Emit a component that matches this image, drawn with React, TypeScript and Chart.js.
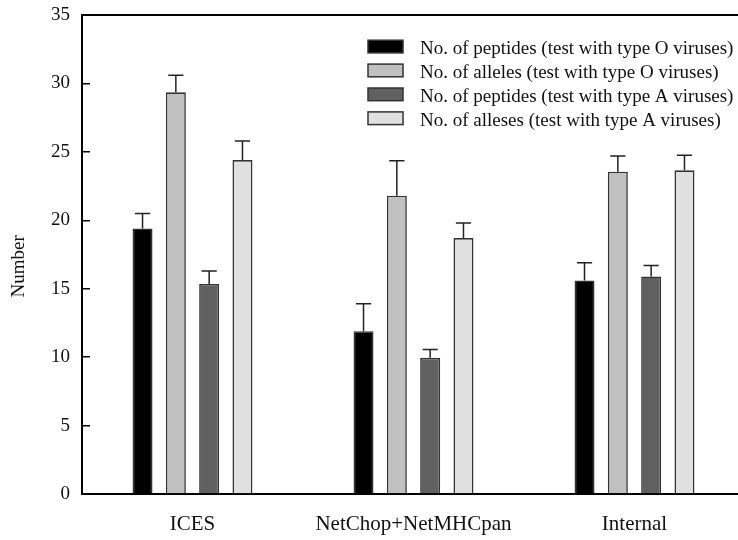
import React, { useEffect, useRef } from 'react';
import { Chart, registerables } from 'chart.js';

Chart.register(...registerables);

const categories = ['ICES', 'NetChop+NetMHCpan', 'Internal'];
const seriesLabels = [
  'No. of peptides (test with type O viruses)',
  'No. of alleles (test with type O viruses)',
  'No. of peptides (test with type A viruses)',
  'No. of alleses (test with type A viruses)',
];
const peptidesO = [19.4, 11.9, 15.6];
const allelesO = [29.35, 21.8, 23.55];
const peptidesA = [15.35, 9.95, 15.9];
const allelesA = [24.4, 18.7, 23.65];
const errPeptidesO = [1.1, 2.0, 1.3];
const errAllelesO = [1.25, 2.55, 1.15];
const errPeptidesA = [0.95, 0.6, 0.8];
const errAllelesA = [1.4, 1.1, 1.1];
const yTicks = [0, 5, 10, 15, 20, 25, 30, 35];

const fillColors = ['#000000', '#c0c0c0', '#606060', '#e0e0e0'];
const FONT = "'Liberation Serif', 'Times New Roman', serif";

const errorBarPlugin = {
  id: 'errorBars',
  afterDatasetsDraw(chart: any) {
    const ctx = chart.ctx;
    const y = chart.scales.y;
    chart.data.datasets.forEach((ds: any, i: number) => {
      const meta = chart.getDatasetMeta(i);
      meta.data.forEach((bar: any, j: number) => {
        const v = ds.data[j];
        const top = y.getPixelForValue(v + ds.errors[j]);
        const x = bar.x;
        const half = bar.width * 0.38;
        ctx.save();
        ctx.strokeStyle = '#222';
        ctx.lineWidth = 1.5;
        ctx.beginPath();
        ctx.moveTo(x, bar.y);
        ctx.lineTo(x, top);
        ctx.moveTo(x - half, top);
        ctx.lineTo(x + half, top);
        ctx.stroke();
        ctx.restore();
      });
    });
  },
};

const legendPlugin = {
  id: 'boxLegend',
  afterDraw(chart: any) {
    const { ctx, chartArea } = chart;
    const x0 = chartArea.left + 286;
    const y0 = chartArea.top + 31.5;
    const gap = 23.9;
    ctx.save();
    chart.data.datasets.forEach((ds: any, i: number) => {
      const yc = y0 + i * gap;
      ctx.fillStyle = ds.backgroundColor;
      ctx.fillRect(x0, yc - 6.3, 35, 12.7);
      ctx.strokeStyle = '#333';
      ctx.lineWidth = 1.5;
      ctx.strokeRect(x0, yc - 6.3, 35, 12.7);
      ctx.fillStyle = '#111';
      ctx.font = `19px ${FONT}`;
      ctx.textBaseline = 'alphabetic';
      ctx.textAlign = 'left';
      ctx.fillText(ds.label, x0 + 52, yc + 7.5);
    });
    ctx.restore();
  },
};

export default function App() {
  const ref = useRef<HTMLCanvasElement>(null);
  useEffect(() => {
    if (!ref.current) return;
    const values = [peptidesO, allelesO, peptidesA, allelesA];
    const errs = [errPeptidesO, errAllelesO, errPeptidesA, errAllelesA];
    const chart = new Chart(ref.current, {
      type: 'bar',
      data: {
        labels: categories,
        datasets: values.map((d, i) => ({
          label: seriesLabels[i],
          data: d,
          errors: errs[i],
          backgroundColor: fillColors[i],
          borderColor: '#333333',
          borderWidth: 1.6,
          categoryPercentage: 0.603,
          barPercentage: 0.6,
        })) as any,
      },
      options: {
        animation: false,
        responsive: true,
        maintainAspectRatio: false,
        devicePixelRatio: 1,
        layout: { padding: { top: 15, right: 15, left: 0, bottom: 0 } },
        plugins: { legend: { display: false }, tooltip: { enabled: false } },
        scales: {
          x: {
            type: 'category',
            offset: true,
            grid: { display: false, drawTicks: false },
            border: { display: true, color: '#000', width: 2 },
            ticks: { font: { family: FONT, size: 21 }, color: '#111', padding: 18, maxRotation: 0, autoSkip: false },
            afterFit(s: any) { s.height = 46; s.paddingLeft = 0; s.paddingRight = 0; },
          },
          x2: {
            type: 'category',
            position: 'top',
            labels: categories,
            grid: { display: false, drawTicks: false },
            ticks: { display: false },
            border: { display: true, color: '#000', width: 2 },
            afterFit(s: any) { s.height = 0; s.paddingLeft = 0; s.paddingRight = 0; },
          },
          y: {
            min: 0,
            max: 35,
            afterBuildTicks(s: any) { s.ticks = yTicks.map((v) => ({ value: v })); },
            ticks: { font: { family: FONT, size: 19 }, color: '#111', padding: 20 },
            grid: { drawOnChartArea: false, drawTicks: true, tickLength: -8, color: '#000', lineWidth: 1.5 },
            border: { display: true, color: '#000', width: 2 },
            title: { display: true, text: 'Number     ', font: { family: FONT, size: 19 }, color: '#111', padding: { top: 8, bottom: 0 } },
            afterFit(s: any) { s.width = 82; s.paddingTop = 0; s.paddingBottom = 0; },
          },
        },
      } as any,
      plugins: [errorBarPlugin, legendPlugin],
    });
    return () => chart.destroy();
  }, []);
  return (
    <div style={{ position: 'fixed', left: 0, top: 0, width: 738, height: 540, overflow: 'hidden', background: '#fff' }}>
      <div style={{ position: 'relative', width: 760, height: 540 }}>
        <canvas ref={ref} />
      </div>
    </div>
  );
}
